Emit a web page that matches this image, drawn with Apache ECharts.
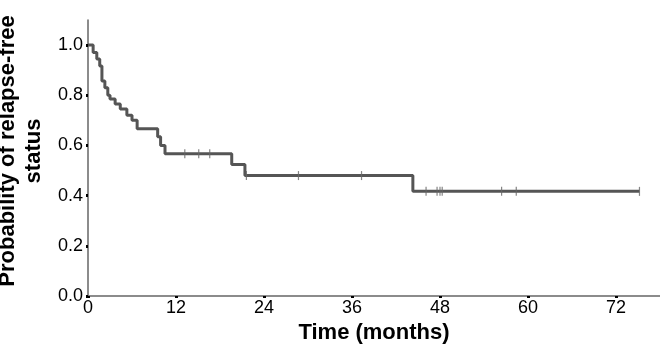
<!DOCTYPE html>
<html>
<head>
<meta charset="utf-8">
<script src="https://cdn.jsdelivr.net/npm/echarts@6/dist/echarts.min.js"></script>
<style>
html,body{margin:0;padding:0;background:#fff;}
#c{width:660px;height:346px;}
</style>
</head>
<body>
<div id="c"></div>
<script>
// Kaplan-Meier step points (time in months, survival after event)
var eventTimes = [0, 0.7, 1.2, 1.6, 1.9, 2.3, 2.7, 3.0, 3.7, 4.4, 5.3, 6.0, 6.7, 9.5, 9.9, 10.5, 19.6, 21.4, 44.3, 75.2];
var survival   = [1.0, 0.97, 0.945, 0.917, 0.857, 0.83, 0.80, 0.785, 0.765, 0.745, 0.72, 0.70, 0.667, 0.635, 0.60, 0.567, 0.524, 0.48, 0.417, 0.417];
// censored observations
var censorTimes = [13.2, 15.1, 16.6, 21.6, 28.7, 37.3, 46.1, 47.6, 48.0, 48.3, 56.4, 58.4, 75.2];
var censorSurv  = [0.567, 0.567, 0.567, 0.48, 0.48, 0.48, 0.417, 0.417, 0.417, 0.417, 0.417, 0.417, 0.417];
var xTicks = [0, 12, 24, 36, 48, 60, 72];
var yTicks = [0.0, 0.2, 0.4, 0.6, 0.8, 1.0];

var stepData = eventTimes.map(function(t, i){ return [t, survival[i]]; });
var censorData = censorTimes.map(function(t, i){ return [t, censorSurv[i]]; });

var chart = echarts.init(document.getElementById('c'), null, {renderer:'canvas'});
var font = 'Liberation Sans, Arial, Helvetica, sans-serif';
chart.setOption({
  animation: false,
  backgroundColor: '#fff',
  grid: {left: 88, right: 0, top: 20, bottom: 50, containLabel: false, outerBoundsMode: 'none'},
  xAxis: {
    type: 'value', min: 0, max: 78, interval: 12,
    name: 'Time (months)', nameLocation: 'middle', nameGap: 25,
    nameTextStyle: {fontFamily: font, fontSize: 22, fontWeight: 'bold', color: '#000'},
    axisLine: {onZero: false, lineStyle: {color: '#666', width: 1.5}},
    axisTick: {show: true, length: 2, lineStyle: {color: '#000', width: 3}},
    axisLabel: {fontFamily: font, fontSize: 18, color: '#000', margin: 3, showMaxLabel: false,
      formatter: function(v){ return xTicks.indexOf(v) >= 0 ? String(v) : ''; }},
    splitLine: {show: false}
  },
  yAxis: {
    type: 'value', min: 0, max: 1.1, interval: 0.2,
    name: 'Probability of relapse-free\nstatus', nameLocation: 'middle', nameGap: 37,
    nameTextStyle: {fontFamily: font, fontSize: 22, fontWeight: 'bold', color: '#000', lineHeight: 26, align: 'center', padding: [0, 0, 0, 14]},
    axisLine: {show: true, onZero: false, lineStyle: {color: '#666', width: 1.5}},
    axisTick: {show: true, length: 2, lineStyle: {color: '#000', width: 3}},
    axisLabel: {fontFamily: font, fontSize: 18, color: '#000', margin: 5, showMaxLabel: false,
      formatter: function(v){
        for (var i = 0; i < yTicks.length; i++) { if (Math.abs(yTicks[i] - v) < 1e-6) return yTicks[i].toFixed(1); }
        return '';
      }},
    splitLine: {show: false}
  },
  series: [
    {
      type: 'line', step: 'end', data: stepData, showSymbol: false, symbol: 'none',
      lineStyle: {color: '#555', width: 3}, z: 2
    },
    {
      type: 'scatter', data: censorData, symbol: 'rect', symbolSize: [1.2, 9],
      itemStyle: {color: '#666'}, z: 3
    }
  ]
});
</script>
</body>
</html>
